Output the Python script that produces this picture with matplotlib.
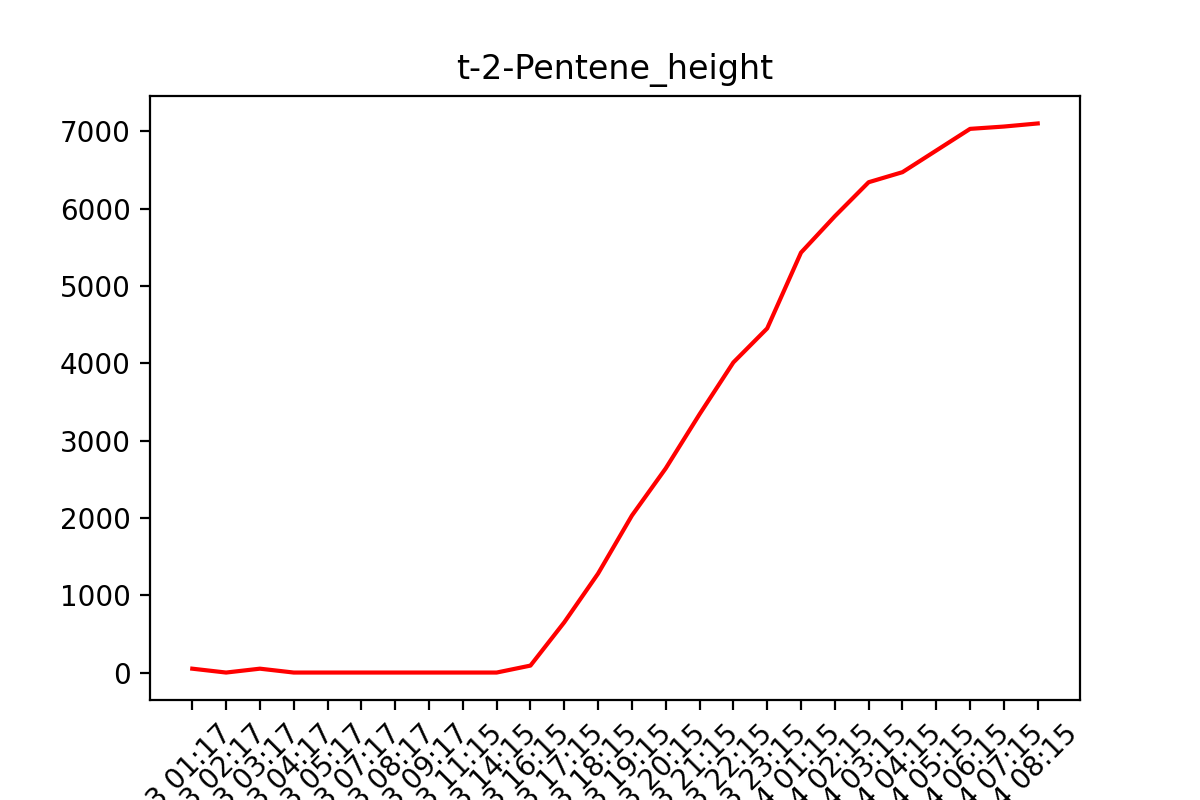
import matplotlib
matplotlib.use("Agg")
import matplotlib.pyplot as plt
from matplotlib.transforms import ScaledTranslation

# sample times (categorical labels on the x axis)
times = [
    "2021-05-13 01:17", "2021-05-13 02:17", "2021-05-13 03:17", "2021-05-13 04:17",
    "2021-05-13 05:17", "2021-05-13 07:17", "2021-05-13 08:17", "2021-05-13 09:17",
    "2021-05-13 11:15", "2021-05-13 14:15", "2021-05-13 16:15", "2021-05-13 17:15",
    "2021-05-13 18:15", "2021-05-13 19:15", "2021-05-13 20:15", "2021-05-13 21:15",
    "2021-05-13 22:15", "2021-05-13 23:15", "2021-05-14 01:15", "2021-05-14 02:15",
    "2021-05-14 03:15", "2021-05-14 04:15", "2021-05-14 05:15", "2021-05-14 06:15",
    "2021-05-14 07:15", "2021-05-14 08:15",
]

# peak height of t-2-Pentene
height = [
    50, 0, 50, 0, 0, 0, 0, 0, 0, 0, 90, 650, 1280, 2030, 2640, 3340,
    4010, 4450, 5430, 5900, 6340, 6470, 6750, 7030, 7060, 7100,
]

fig, ax = plt.subplots(figsize=(6, 4), dpi=200)
ax.plot(times, height, color="red")
ax.set_title("t-2-Pentene_height")
plt.xticks(rotation=45, ha="right")

# nudge the rotated labels a bit to the right of their ticks
shift = ScaledTranslation(0.225, 0, fig.dpi_scale_trans)
for lbl in ax.get_xticklabels():
    lbl.set_transform(lbl.get_transform() + shift)

plt.subplots_adjust(left=0.125, right=0.9, top=0.88, bottom=0.125)
plt.savefig("out.png")
